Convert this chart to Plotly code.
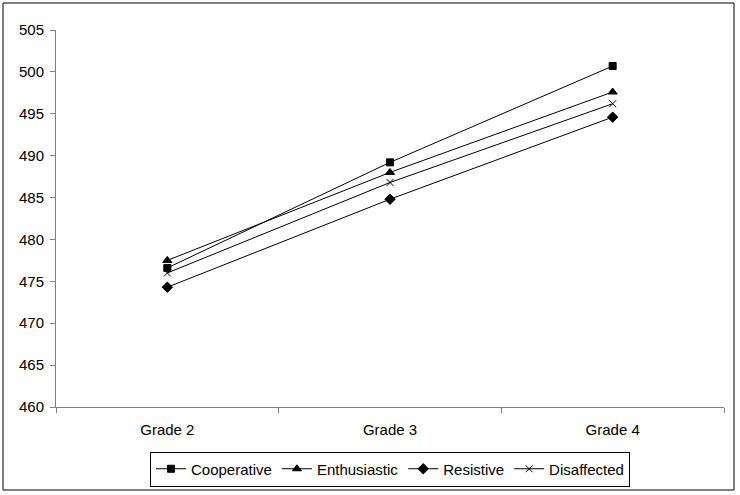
import plotly.graph_objects as go

grades = ["Grade 2", "Grade 3", "Grade 4"]
cooperative = [476.6, 489.2, 500.7]
enthusiastic = [477.5, 488.0, 497.6]
resistive = [474.3, 484.8, 494.6]
disaffected = [476.0, 486.8, 496.2]
y_ticks = [460, 465, 470, 475, 480, 485, 490, 495, 500, 505]

series = [
    ("Cooperative", cooperative, "square", 7),
    ("Enthusiastic", enthusiastic, "triangle-up", 8),
    ("Resistive", resistive, "diamond", 8),
    ("Disaffected", disaffected, "x-thin-open", 7),
]

fig = go.Figure()
for name, vals, sym, sz in series:
    fig.add_trace(go.Scatter(
        x=grades, y=vals, name=name, mode="lines+markers",
        line=dict(color="black", width=1),
        marker=dict(symbol=sym, size=sz, color="black",
                    line=dict(color="black", width=1)),
    ))

W, H = 740, 495
L, R, T, B = 56, 16, 30, 88
pw = W - L - R
ph = H - T - B

def px_x(p):
    return (p - L) / pw

def px_y(p):
    return (H - B - p) / ph

fig.update_layout(
    width=W, height=H,
    margin=dict(l=L, r=R, t=T, b=B, autoexpand=False),
    paper_bgcolor="white", plot_bgcolor="white",
    font=dict(family="Liberation Sans, Arial, sans-serif", size=15, color="black"),
    showlegend=True,
    legend=dict(orientation="h", x=0.5, xanchor="center",
                y=px_y(469), yanchor="middle",
                bordercolor="black", borderwidth=1,
                font=dict(size=15), itemwidth=30, tracegroupgap=0),
    xaxis=dict(range=[-0.5, 2.5], showline=True, linecolor="#808080", linewidth=1,
               ticks="outside", tickson="boundaries", ticklen=5, tickcolor="#808080",
               showgrid=False, zeroline=False, fixedrange=True,
               tickfont=dict(size=15), ticklabelstandoff=9),
    yaxis=dict(range=[460, 505], tickvals=y_ticks, showline=True, linecolor="#808080",
               linewidth=1, ticks="outside", ticklen=5, tickcolor="#808080",
               showgrid=False, zeroline=False, fixedrange=True,
               tickfont=dict(size=15), ticklabelstandoff=3),
    shapes=[dict(type="rect", xref="paper", yref="paper",
                 x0=px_x(3), x1=px_x(734), y0=px_y(490), y1=px_y(3),
                 line=dict(color="black", width=1), fillcolor="rgba(0,0,0,0)",
                 layer="below")],
)

fig.write_html("out.html", config={"displayModeBar": False},
               post_script="document.body.style.margin='0';document.body.style.overflow='hidden';")
